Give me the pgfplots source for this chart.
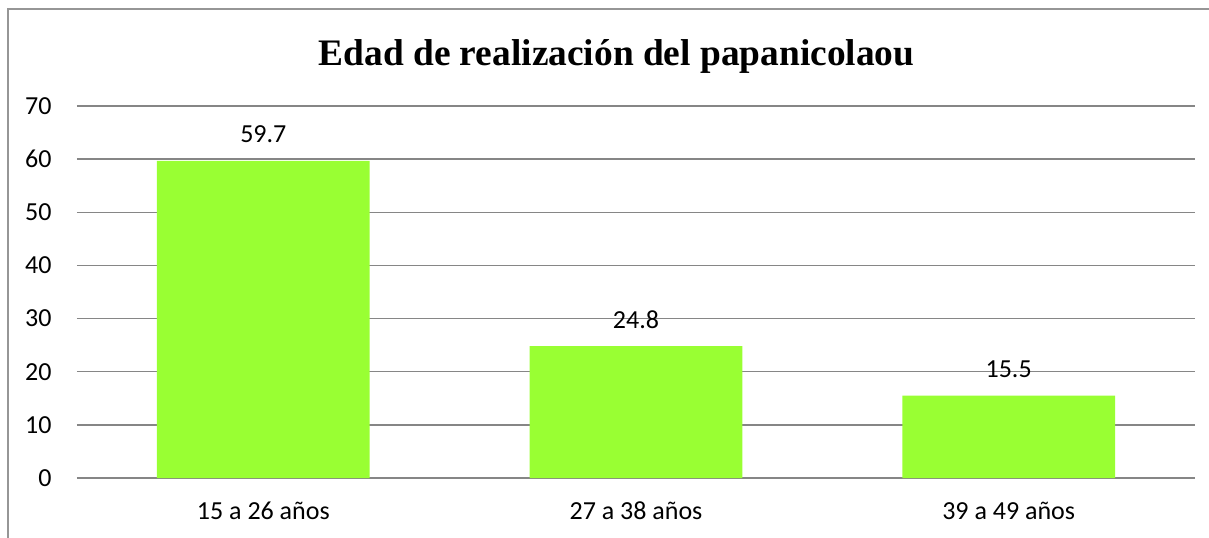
\documentclass[border=0pt]{standalone}
\usepackage{fontspec}
\setmainfont{Carlito}
\newfontfamily\titlefont{Liberation Serif}
\usepackage{pgfplots}
\pgfplotsset{compat=1.18}
\definecolor{barfill}{RGB}{153,255,51}
\definecolor{gridgray}{RGB}{134,134,134}
\definecolor{framegray}{RGB}{150,150,150}
\begin{document}
\begin{tikzpicture}
\begin{axis}[
  at={(0pt,0pt)}, anchor=south west,
  scale only axis,
  width=559pt, height=186pt,
  ybar, bar width=0.571,
  xmin=-0.5, xmax=2.5,
  ymin=0, ymax=70,
  enlargelimits=false,
  ytick={0,10,...,70},
  xtick=data,
  xticklabels={15 a 26 años, 27 a 38 años, 39 a 49 años},
  axis line style={draw=none},
  major tick length=0pt,
  ymajorgrids,
  grid style={gridgray, line width=0.7pt},
  tick label style={font=\fontsize{13}{15}\selectfont},
  /pgf/number format/assume math mode=true,
  yticklabel style={anchor=east, inner sep=0pt, xshift=-12.5pt},
  xticklabel style={anchor=base, inner sep=0pt, yshift=-20.5pt},
  nodes near coords,
  nodes near coords style={anchor=base, inner sep=0pt, yshift=9pt, font=\fontsize{13}{15}\selectfont, /pgf/number format/fixed, /pgf/number format/precision=1},
]
\addplot[fill=barfill, draw=none] coordinates {(0,59.7) (1,24.8) (2,15.5)};
\end{axis}
\node[anchor=base, inner sep=0pt, font=\titlefont\bfseries\fontsize{18.7}{22}\selectfont] at (269.75pt,206.5pt) {Edad de realización del papanicolaou};
\pgfresetboundingbox
\useasboundingbox (-38.5pt,-29.5pt) rectangle (566pt,239pt);
\draw[framegray, line width=0.7pt] (-34.5pt,-40pt) -- (-34.5pt,234.5pt) -- (580pt,234.5pt);
\end{tikzpicture}
\end{document}
